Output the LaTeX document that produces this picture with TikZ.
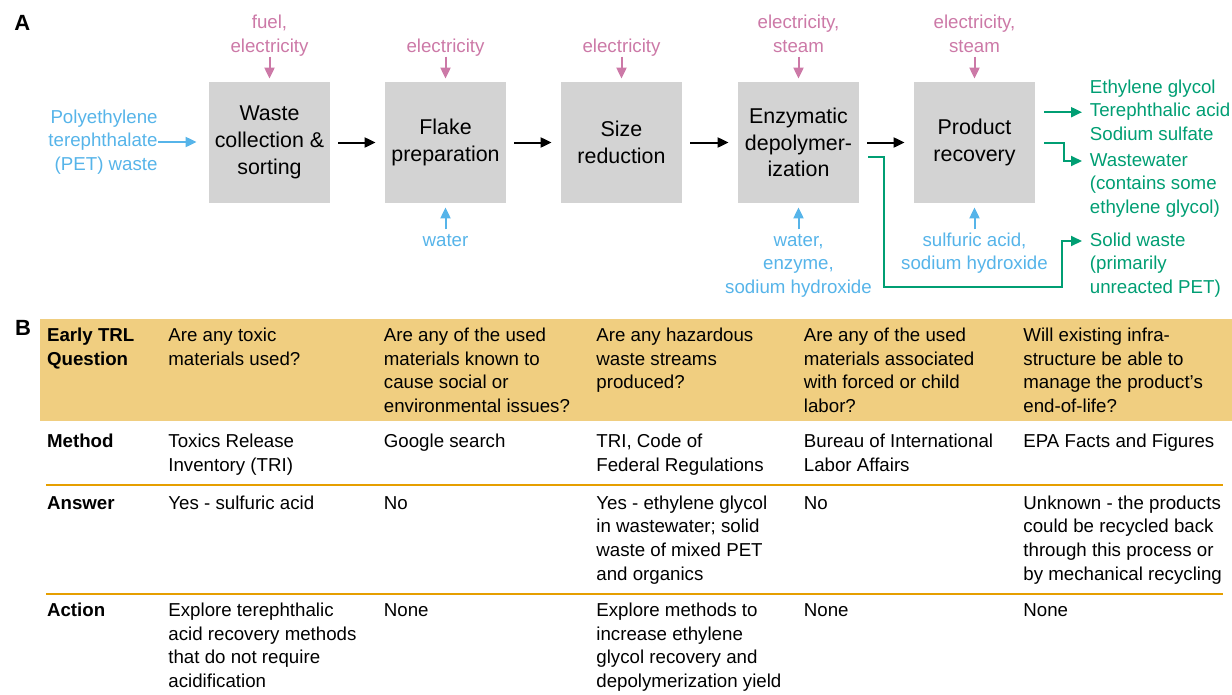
\documentclass[tikz,border=0pt]{standalone}
\usepackage{fontspec}
\setmainfont{Liberation Sans}
\usetikzlibrary{positioning}
\usetikzlibrary{arrows.meta}

\definecolor{elec}{HTML}{CC79A7}
\definecolor{feed}{HTML}{56B4E9}
\definecolor{prod}{HTML}{009E73}
\definecolor{hdr}{HTML}{F0CE80}
\definecolor{rulecol}{HTML}{E69F00}
\definecolor{boxgray}{HTML}{D3D3D3}
\newcommand{\bodyfont}{\fontsize{18.7}{23.6}\selectfont}
\newcommand{\boxfont}{\fontsize{21.4}{26.7}\selectfont}

\begin{document}
\begin{tikzpicture}[x=1pt, y=1pt, thick]
    \tikzstyle{steps}=[fill=boxgray, minimum width=121pt, minimum height=121pt,
                      inner sep=0pt, align=center, font=\boxfont]
    \tikzstyle{usein}=[text=elec, align=center, inner sep=0pt, font=\bodyfont]
    \tikzstyle{feedin}=[text=feed, align=center, inner sep=0pt, font=\bodyfont]
    \tikzstyle{outs}=[text=prod, align=left, inner sep=0pt, font=\bodyfont, anchor=north west]
    \tikzstyle{cell}=[align=left, inner sep=0pt, font=\bodyfont, anchor=north west]
    \tikzstyle{panel}=[inner sep=0pt, anchor=north west, font=\fontsize{22}{26}\selectfont\bfseries]
    \tikzstyle{flow}=[line width=2pt, -{Triangle[length=11pt,width=10pt]}]
    \useasboundingbox (0,0) rectangle (1232,-694);

    \node[panel] (pa) at (14,-15) {A};
    \node[panel] (pb) at (14.6,-320) {B};

    % Process steps
    \foreach \x/\name/\txt in {269.5/b1/{Waste\\collection \&\\sorting},
        445.5/b2/{Flake\\preparation}, 621.5/b3/{Size\\reduction},
        798.5/b4/{Enzymatic\\depolymer-\\ization}, 974.5/b5/{Product\\recovery}}
        \node[steps] (\name) at (\x,-142.5) {\txt};
    \foreach \a/\b in {b1/b2,b2/b3,b3/b4,b4/b5}
        \draw[flow, black, shorten <=8pt, shorten >=9pt] (\a) -- (\b);

    % Energy inputs
    \node[usein, above=22pt of b1] (t1) {fuel,\\electricity\strut};
    \node[usein, above=22pt of b2] (t2) {electricity\strut};
    \node[usein, above=22pt of b3] (t3) {electricity\strut};
    \node[usein, above=22pt of b4] (t4) {electricity,\\steam\strut};
    \node[usein, above=22pt of b5] (t5) {electricity,\\steam\strut};
    \foreach \n in {1,...,5}
        \draw[flow, elec, shorten <=-3pt, shorten >=3pt] (t\n) -- (b\n);

    % Material inputs
    \node[feedin, anchor=east, align=right] (pet) at (158,-142) {Polyethylene\\terephthalate\\(PET) waste};
    \draw[flow, feed, shorten >=12pt] (pet.east) -- (pet.east -| b1.west);
    \node[feedin, below=26pt of b2] (w2) {\strut water};
    \node[feedin, below=26pt of b4] (w4) {\strut water,\\enzyme,\\sodium hydroxide};
    \node[feedin, below=26pt of b5] (w5) {\strut sulfuric acid,\\sodium hydroxide};
    \foreach \n in {2,4,5}
        \draw[flow, feed, shorten >=4pt] (w\n) -- (b\n);

    % Outputs
    \node[outs] (o1) at (1089.5,-76.4) {\strut Ethylene glycol\\Terephthalic acid\\Sodium sulfate\strut};
    \node[outs] (o2) at (1089.5,-149.4) {\strut Wastewater\\(contains some\\ethylene glycol)};
    \node[outs] (o3) at (1089.5,-229.4) {\strut Solid waste\\(primarily\\unreacted PET)};
    \draw[flow, prod, shorten <=9pt, shorten >=7.5pt] (b5.east |- o1.west) -- (o1.west);
    \draw[flow, prod, shorten <=9pt, shorten >=7.5pt] (b5.east) -- ++(29,0)
        |- ([yshift=-11.6pt]o2.north west);
    \draw[flow, prod, shorten <=9pt, shorten >=7.5pt] ([yshift=-14.5pt]b4.east) -- ++(24.5,0)
        |- ([xshift=-27.5pt,yshift=-57.6pt]o3.north west) |- ([yshift=-11.6pt]o3.north west);

    % Table
    \fill[hdr] (39.5,-319) rectangle (1232,-420.7);
    \draw[rulecol, line width=2pt] (46,-485) -- (1223,-485);
    \draw[rulecol, line width=2pt] (46,-594) -- (1223,-594);

    \node[cell, font=\bodyfont\bfseries] (q0) at (46.7,-324.5) {\strut Early TRL\\Question};
    \node[cell, font=\bodyfont\bfseries] (m0) at (46.7,-430.5) {\strut Method};
    \node[cell, font=\bodyfont\bfseries] (a0) at (46.7,-492.3) {\strut Answer};
    \node[cell, font=\bodyfont\bfseries] (c0) at (46.7,-599.7) {\strut Action};

    \foreach \x/\n/\txt in {168/1/{Are any toxic\\materials used?},
        383.5/2/{Are any of the used\\materials known to\\cause social or\\environmental issues?},
        596/3/{Are any hazardous\\waste streams\\produced?},
        803.5/4/{Are any of the used\\materials associated\\with forced or child\\labor?},
        1023/5/{Will existing infra-\\structure be able to\\manage the product's\\end-of-life?}}
        \node[cell] (q\n) at (\x,-324.5) {\strut \txt};

    \foreach \x/\n/\txt in {168/1/{Toxics Release\\Inventory (TRI)},
        383.5/2/{Google search},
        596/3/{TRI, Code of\\Federal Regulations},
        803.5/4/{Bureau of International\\Labor Affairs},
        1023/5/{EPA Facts and Figures}}
        \node[cell] (m\n) at (\x,-430.5) {\strut \txt};

    \foreach \x/\n/\txt in {168/1/{Yes - sulfuric acid},
        383.5/2/{No},
        596/3/{Yes - ethylene glycol\\in wastewater; solid\\waste of mixed PET\\and organics},
        803.5/4/{No},
        1023/5/{Unknown - the products\\could be recycled back\\through this process or\\by mechanical recycling}}
        \node[cell] (a\n) at (\x,-492.3) {\strut \txt};

    \foreach \x/\n/\txt in {168/1/{Explore terephthalic\\acid recovery methods\\that do not require\\acidification},
        383.5/2/{None},
        596/3/{Explore methods to\\increase ethylene\\glycol recovery and\\depolymerization yield},
        803.5/4/{None},
        1023/5/{None}}
        \node[cell] (c\n) at (\x,-599.7) {\strut \txt};
\end{tikzpicture}
\end{document}
